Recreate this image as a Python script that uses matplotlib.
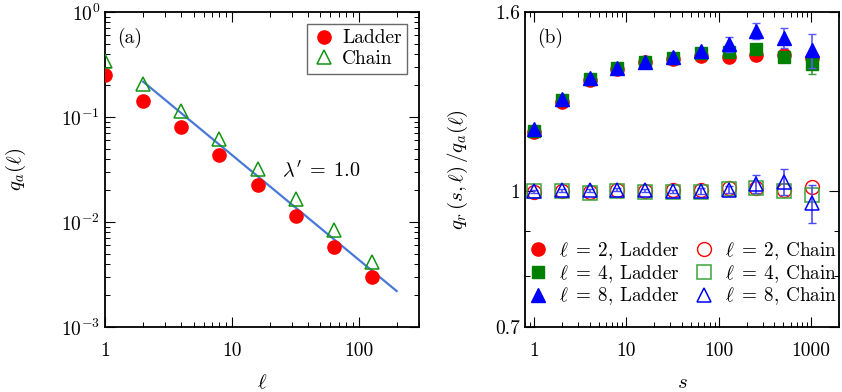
import matplotlib
matplotlib.use('Agg')
import matplotlib.pyplot as plt
from matplotlib.ticker import FixedLocator, FixedFormatter, LogLocator, NullFormatter

plt.rcParams['font.family'] = 'cmr10'
plt.rcParams['mathtext.fontset'] = 'cm'
plt.rcParams['axes.formatter.use_mathtext'] = True

# panel (a)
ell = [1, 2, 4, 8, 16, 32, 64, 128]
qa_ladder = [0.251, 0.143, 0.0798, 0.0432, 0.0225, 0.0114, 0.00582, 0.00301]
qa_chain = [0.341, 0.205, 0.114, 0.0613, 0.0322, 0.0166, 0.0084, 0.00419]
fit_x = [2, 200]
fit_y = [0.217, 0.0022]

# panel (b)
s_vals = [1, 2, 4, 8, 16, 32, 64, 128, 256, 512, 1024]
ladder_l2 = [1.169, 1.264, 1.339, 1.376, 1.402, 1.413, 1.426, 1.423, 1.429, 1.430, 1.418]
ladder_l4 = [1.172, 1.270, 1.341, 1.381, 1.404, 1.419, 1.438, 1.440, 1.452, 1.422, 1.395]
ladder_l8 = [1.176, 1.274, 1.345, 1.382, 1.404, 1.422, 1.443, 1.470, 1.521, 1.494, 1.447]
err_ladder_l4 = [0, 0, 0, 0, 0, 0, 0, 0.01, 0.01, 0.015, 0.035]
err_ladder_l8 = [0, 0, 0, 0, 0, 0, 0.01, 0.03, 0.032, 0.04, 0.065]
chain_l2 = [0.997, 1.000, 0.998, 1.002, 1.000, 1.003, 1.004, 1.007, 1.007, 1.003, 1.011]
chain_l4 = [1.000, 1.000, 0.994, 1.000, 0.997, 0.997, 0.998, 1.005, 1.008, 1.000, 0.991]
chain_l8 = [1.000, 1.002, 1.002, 1.004, 1.002, 0.999, 1.000, 1.004, 1.018, 1.025, 0.968]
err_chain_l8 = [0.004, 0.004, 0.004, 0.004, 0.004, 0.004, 0.008, 0.01, 0.024, 0.035, 0.048]

fig = plt.figure(figsize=(8.42, 3.92), dpi=100)
ax1 = fig.add_axes([0.1247, 0.1658, 0.3729, 0.8036])
ax2 = fig.add_axes([0.6235, 0.1658, 0.3729, 0.8036])

for ax in (ax1, ax2):
    ax.tick_params(which='both', direction='in', top=True, right=True, labelsize=14)
    ax.tick_params(which='major', length=7, width=0.8)
    ax.tick_params(which='minor', length=3.5, width=0.7)
    ax.tick_params(axis='x', pad=11)
    for sp in ax.spines.values():
        sp.set_linewidth(1.3)

# ---- (a)
ax1.plot(ell, qa_ladder, 'o', color='red', ms=9.5, label='Ladder', zorder=3)
ax1.plot(ell, qa_chain, '^', mfc='none', mec='#129412', mew=1.1, ms=10, label='Chain', zorder=4)
ax1.plot(fit_x, fit_y, '-', color='#4a78d8', lw=1.6, zorder=2)
ax1.set_xscale('log')
ax1.set_yscale('log')
ax1.set_xlim(1, 300)
ax1.set_ylim(1e-3, 1)
ax1.xaxis.set_major_locator(FixedLocator([1, 10, 100]))
ax1.xaxis.set_major_formatter(FixedFormatter(['1', '10', '100']))
ax1.xaxis.set_minor_locator(LogLocator(base=10, subs=range(2, 10)))
ax1.xaxis.set_minor_formatter(NullFormatter())
ax1.yaxis.set_minor_locator(LogLocator(base=10, subs=range(2, 10)))
ax1.yaxis.set_minor_formatter(NullFormatter())
ax1.set_xlabel(r'$\ell$', fontsize=15, labelpad=10)
ax1.set_ylabel(r'$q_a(\ell)$', fontsize=15, labelpad=24)
ax1.text(0.04, 0.95, '(a)', transform=ax1.transAxes, fontsize=14, va='top')
ax1.text(25, 0.031, r"$\lambda'\;=\;1.0$", fontsize=14.5, va='center')
leg1 = ax1.legend(loc='upper right', fontsize=14, frameon=True, fancybox=False,
                  edgecolor='#444444', handletextpad=0.3, borderpad=0.3,
                  labelspacing=0.15, handlelength=1.2, borderaxespad=0.6)
leg1.get_frame().set_linewidth(1.0)

# ---- (b)
ax2.plot(s_vals, ladder_l2, 'o', color='red', ms=9.5, label=r'$\ell\;=\;2$, Ladder', zorder=3)
ax2.errorbar(s_vals, ladder_l4, yerr=err_ladder_l4, fmt='none',
             ecolor='#3a9a3a', elinewidth=1.2, capsize=3, zorder=4)
ax2.plot(s_vals, ladder_l4, 's', color='green', ms=9, label=r'$\ell\;=\;4$, Ladder', zorder=4)
ax2.errorbar(s_vals, ladder_l8, yerr=err_ladder_l8, fmt='none',
             ecolor='#5a5aff', elinewidth=1.2, capsize=3, zorder=5)
ax2.plot(s_vals, ladder_l8, '^', color='blue', ms=9.5, label=r'$\ell\;=\;8$, Ladder', zorder=5)
ax2.plot(s_vals, chain_l2, 'o', mfc='none', mec='red', mew=1.0, ms=10,
         label=r'$\ell\;=\;2$, Chain', zorder=3)
ax2.plot(s_vals, chain_l4, 's', mfc='none', mec='#3aa33a', mew=1.1, ms=9.5,
         label=r'$\ell\;=\;4$, Chain', zorder=4)
ax2.errorbar(s_vals, chain_l8, yerr=err_chain_l8, fmt='none',
             ecolor='#4a4aff', elinewidth=1.2, capsize=3, zorder=5)
ax2.plot(s_vals, chain_l8, '^', mfc='none', mec='blue', mew=1.1, ms=10,
         label=r'$\ell\;=\;8$, Chain', zorder=5)
ax2.set_xscale('log')
ax2.set_yscale('log')
ax2.set_xlim(0.8, 2000)
ax2.set_ylim(0.7, 1.6)
ax2.xaxis.set_major_locator(FixedLocator([1, 10, 100, 1000]))
ax2.xaxis.set_major_formatter(FixedFormatter(['1', '10', '100', '1000']))
ax2.xaxis.set_minor_locator(LogLocator(base=10, subs=range(2, 10)))
ax2.xaxis.set_minor_formatter(NullFormatter())
ax2.yaxis.set_major_locator(FixedLocator([0.7, 1.0, 1.6]))
ax2.yaxis.set_major_formatter(FixedFormatter(['0.7', '1', '1.6']))
ax2.yaxis.set_minor_locator(FixedLocator([0.8, 0.9]))
ax2.yaxis.set_minor_formatter(NullFormatter())
ax2.set_xlabel(r'$s$', fontsize=15, labelpad=10)
ax2.set_ylabel(r'$q_r\,(s,\ell)\,/q_a(\ell)$', fontsize=15, labelpad=18)
ax2.text(0.04, 0.95, '(b)', transform=ax2.transAxes, fontsize=14, va='top')
ax2.legend(loc='lower left', ncol=2, fontsize=13.8, frameon=False, handletextpad=0.6,
           columnspacing=0.75, labelspacing=0.05, handlelength=1.0, borderpad=0.2,
           borderaxespad=0.0, bbox_to_anchor=(0.0, 0.05))

fig.savefig('out.png', dpi=100)
